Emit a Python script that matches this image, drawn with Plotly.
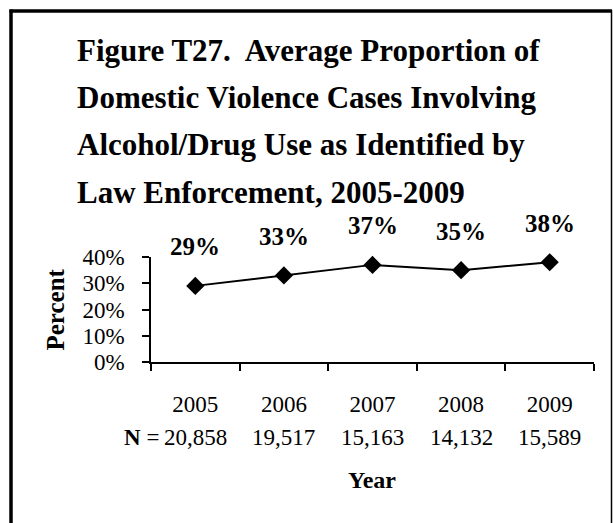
import plotly.graph_objects as go

years = ["2005", "2006", "2007", "2008", "2009"]
percent = [0.29, 0.33, 0.37, 0.35, 0.38]
pct_labels = ["29%", "33%", "37%", "35%", "38%"]
n_values = ["20,858", "19,517", "15,163", "14,132", "15,589"]
title_lines = [
    "Figure T27.&nbsp; Average Proportion of",
    "Domestic Violence Cases Involving",
    "Alcohol/Drug Use as Identified by",
    "Law Enforcement, 2005-2009",
]
y_ticks = [0, 0.1, 0.2, 0.3, 0.4]

W, H = 613, 523
L, R, T, B = 151, 594, 257, 362  # plot area in pixels
pw, ph = R - L, B - T

def px(x):
    return (x - L) / pw

def py(y):
    return (B - y) / ph

FONT = "Liberation Serif"

fig = go.Figure()
fig.add_trace(go.Scatter(
    x=years, y=percent, mode="lines+markers",
    line=dict(color="black", width=2),
    marker=dict(symbol="diamond", size=14, color="black"),
    cliponaxis=False, showlegend=False, hoverinfo="skip",
))

ann = []
for i, (v, lab) in enumerate(zip(percent, pct_labels)):
    ann.append(dict(x=i, y=v, xref="x", yref="y", text="<b>%s</b>" % lab,
                    showarrow=False, yshift=39,
                    font=dict(family=FONT, size=25, color="black")))
for i, n in enumerate(n_values):
    ann.append(dict(x=i, y=py(437), xref="x", yref="paper", text=n,
                    showarrow=False, yanchor="middle",
                    font=dict(family=FONT, size=23, color="black")))
ann.append(dict(x=px(161), y=py(437), xref="paper", yref="paper",
                text="<b>N</b> =", showarrow=False, xanchor="right", yanchor="middle",
                font=dict(family=FONT, size=23, color="black")))
ann.append(dict(x=px(372), y=py(480), xref="paper", yref="paper",
                text="<b>Year</b>", showarrow=False, yanchor="middle",
                font=dict(family=FONT, size=24, color="black")))
ann.append(dict(x=px(55), y=py(309.5), xref="paper", yref="paper",
                text="<b>Percent</b>", showarrow=False, textangle=-90,
                xanchor="center", yanchor="middle",
                font=dict(family=FONT, size=25, color="black")))
for i, line in enumerate(title_lines):
    ann.append(dict(x=px(75), y=py(50 + i * 47.5), xref="paper", yref="paper",
                    text="<b>%s</b>" % line, showarrow=False,
                    xanchor="left", yanchor="middle",
                    font=dict(family=FONT, size=31, color="black")))

shapes = [
    dict(type="line", xref="paper", yref="paper", x0=px(11), x1=px(11),
         y0=py(9.5), y1=py(530), line=dict(color="black", width=3.5)),
    dict(type="line", xref="paper", yref="paper", x0=px(9.5), x1=px(612),
         y0=py(11), y1=py(11), line=dict(color="black", width=3.5)),
    dict(type="line", xref="paper", yref="paper", x0=px(611.5), x1=px(611.5),
         y0=py(10), y1=py(530), line=dict(color="black", width=1.5)),
]

fig.update_layout(
    width=W, height=H,
    margin=dict(l=L, r=W - R, t=T, b=H - B, pad=0),
    paper_bgcolor="white", plot_bgcolor="white",
    annotations=ann, shapes=shapes,
    font=dict(family=FONT, color="black"),
)
fig.update_xaxes(
    type="category", range=[-0.5, 4.5], tickson="boundaries",
    showline=True, linecolor="black", linewidth=1.5,
    ticks="outside", ticklen=7, tickwidth=1.5, tickcolor="black",
    showgrid=False, zeroline=False,
    tickfont=dict(family=FONT, size=23, color="black"),
    ticklabelstandoff=21,
)
fig.update_yaxes(
    range=[0, 0.4], tickvals=y_ticks, tickformat=".0%",
    showline=True, linecolor="black", linewidth=1.5,
    ticks="outside", ticklen=7, tickwidth=1.5, tickcolor="black",
    showgrid=False, zeroline=False,
    tickfont=dict(family=FONT, size=23, color="black"),
    ticklabelstandoff=13,
)

fig.write_html("out.html",
               config={"displayModeBar": False},
               post_script="document.body.style.margin='0px';")
